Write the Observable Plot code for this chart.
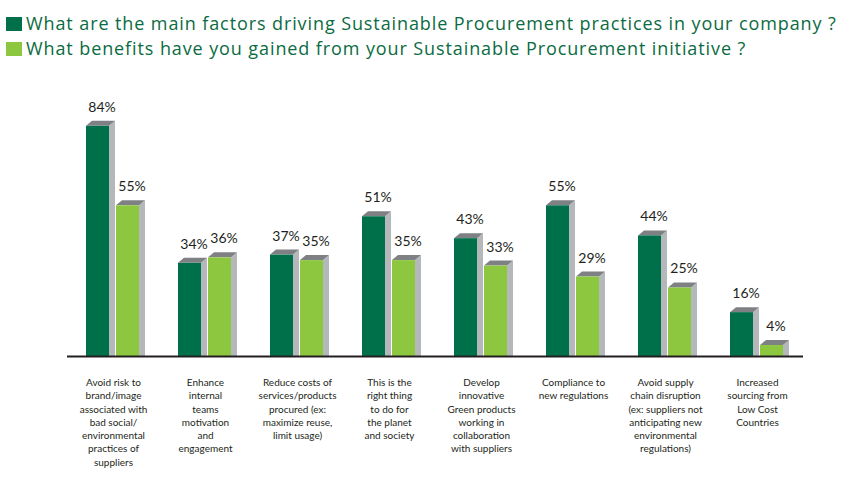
<!DOCTYPE html>
<html>
<head>
<meta charset="utf-8">
<script src="https://cdn.jsdelivr.net/npm/d3@7"></script>
<script src="https://cdn.jsdelivr.net/npm/@observablehq/plot@0.6"></script>
<style>
  html, body { margin: 0; padding: 0; background: #fff; }
  #title { height: 62px; position: relative; font-family: "Open Sans", Lato, sans-serif; font-size: 18px; color: #0B6B42; letter-spacing: 0.9px; }
  .tl { position: absolute; left: 6px; white-space: nowrap; line-height: 20px; }
  .sq { display: inline-block; width: 16px; height: 14px; margin-right: 4px; vertical-align: -1px; }
</style>
</head>
<body>
<div id="title">
  <div class="tl" style="top:13px"><span class="sq" style="background:#00704A"></span>What are the main factors driving Sustainable Procurement practices in your company ?</div>
  <div class="tl" style="top:38px"><span class="sq" style="background:#8DC63F"></span>What benefits have you gained from your Sustainable Procurement initiative ?</div>
</div>
<div id="chart"></div>
<script>
const categories = [
  "Avoid risk to\nbrand/image\nassociated with\nbad social/\nenvironmental\npractices of\nsuppliers",
  "Enhance\ninternal\nteams\nmotivation\nand\nengagement",
  "Reduce costs of\nservices/products\nprocured (ex:\nmaximize reuse,\nlimit usage)",
  "This is the\nright thing\nto do for\nthe planet\nand society",
  "Develop\ninnovative\nGreen products\nworking in\ncollaboration\nwith suppliers",
  "Compliance to\nnew regulations",
  "Avoid supply\nchain disruption\n(ex: suppliers not\nanticipating new\nenvironmental\nregulations)",
  "Increased\nsourcing from\nLow Cost\nCountries"
];
const drivers = [84, 34, 37, 51, 43, 55, 44, 16];
const benefits = [55, 36, 35, 35, 33, 29, 25, 4];
const seriesNames = ["drivers", "benefits"];
const seriesColors = ["#00704A", "#8DC63F"];

const data = [];
categories.forEach((c, i) => {
  data.push({cat: c, series: "drivers", value: drivers[i]});
  data.push({cat: c, series: "benefits", value: benefits[i]});
});

const DX = 6, DY = 5;
function extrude(part) {
  return (index, scales, values, dimensions, context, next) => {
    const g = next(index, scales, values, dimensions, context);
    for (const r of Array.from(g.querySelectorAll("rect"))) {
      const x = +r.getAttribute("x"), y = +r.getAttribute("y");
      const w = +r.getAttribute("width"), h = +r.getAttribute("height");
      const pts = part === "side"
        ? [[x + w, y], [x + w + DX, y - DY], [x + w + DX, y + h], [x + w, y + h]]
        : [[x, y], [x + DX, y - DY], [x + w + DX, y - DY], [x + w, y]];
      const p = document.createElementNS("http://www.w3.org/2000/svg", "polygon");
      p.setAttribute("points", pts.map(d => d.join(",")).join(" "));
      r.replaceWith(p);
    }
    return g;
  };
}

const chart = Plot.plot({
  width: 844,
  height: 416,
  marginLeft: 66,
  marginRight: 41,
  marginTop: 20,
  marginBottom: 122,
  style: {fontFamily: "Lato, 'Open Sans', sans-serif", background: "#fff"},
  fx: {domain: categories, padding: 0, label: null},
  x: {domain: seriesNames, paddingInner: 0.226, paddingOuter: 0.6, axis: null},
  y: {domain: [0, 100], axis: null},
  color: {domain: seriesNames, range: seriesColors},
  marks: [
    Plot.barY(data, {fx: "cat", x: "series", y: "value", fill: "#B5B8BB", render: extrude("side")}),
    Plot.barY(data, {fx: "cat", x: "series", y: "value", fill: "#7E8083", render: extrude("top")}),
    Plot.barY(data, {fx: "cat", x: "series", y: "value", fill: "series"}),
    Plot.text(data, {fx: "cat", x: "series", y: "value", text: d => d.value + "%", dy: -19, dx: 4, fontSize: 14, fill: "#231F20"}),
    Plot.ruleY([0], {stroke: "#231F20", strokeWidth: 2}),
    Plot.axisFx({anchor: "bottom", tickSize: 0, tickPadding: 20, fontSize: 10, lineHeight: 1.33, fill: "#231F20", label: null})
  ]
});
document.getElementById("chart").appendChild(chart);
</script>
</body>
</html>
